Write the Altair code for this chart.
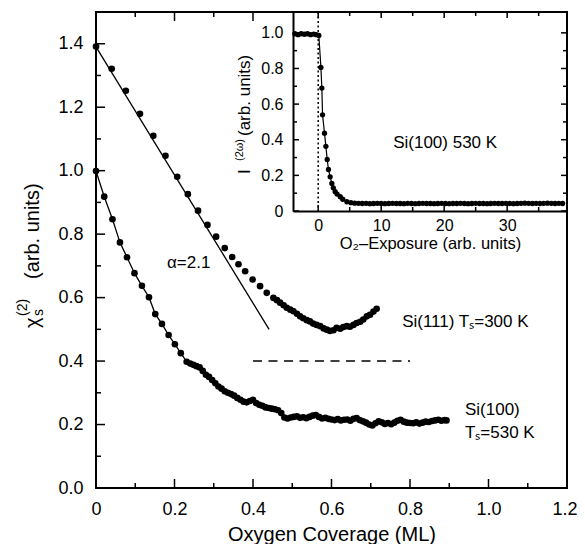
import altair as alt
import pandas as pd

# ---------------- data ----------------
# Si(111), Ts = 300 K
s111_x = [0.000, 0.040, 0.076, 0.112, 0.146, 0.177, 0.207, 0.234, 0.260, 0.284,
          0.306, 0.328, 0.347, 0.363, 0.380, 0.399, 0.418, 0.435, 0.452, 0.461,
          0.469, 0.478, 0.486, 0.495, 0.503, 0.512, 0.520, 0.528, 0.537, 0.545,
          0.553, 0.562, 0.571, 0.580, 0.588, 0.596, 0.605, 0.613, 0.622, 0.630,
          0.639, 0.647, 0.656, 0.664, 0.673, 0.681, 0.690, 0.698, 0.707, 0.715]
s111_y = [1.391, 1.321, 1.252, 1.179, 1.110, 1.047, 0.981, 0.926, 0.874, 0.829,
          0.792, 0.756, 0.728, 0.705, 0.683, 0.657, 0.636, 0.615, 0.599, 0.592,
          0.584, 0.576, 0.568, 0.562, 0.557, 0.549, 0.541, 0.535, 0.529, 0.525,
          0.518, 0.514, 0.510, 0.503, 0.499, 0.495, 0.497, 0.505, 0.502, 0.507,
          0.510, 0.508, 0.514, 0.520, 0.524, 0.531, 0.541, 0.546, 0.556, 0.565]

# Si(100), Ts = 530 K
s100_x = [0.000, 0.021, 0.042, 0.061, 0.079, 0.098, 0.117, 0.135, 0.151, 0.168,
          0.185, 0.201, 0.216, 0.231, 0.240, 0.248, 0.256, 0.264, 0.272, 0.280,
          0.288, 0.296, 0.304, 0.312, 0.320, 0.328, 0.336, 0.344, 0.352, 0.360,
          0.368, 0.376, 0.384, 0.392, 0.400, 0.408, 0.416, 0.424, 0.432, 0.440,
          0.448, 0.456, 0.464, 0.472, 0.480, 0.488, 0.496, 0.504, 0.512, 0.520,
          0.528, 0.536, 0.544, 0.552, 0.560, 0.568, 0.576, 0.584, 0.592, 0.600,
          0.608, 0.616, 0.624, 0.632, 0.640, 0.648, 0.656, 0.664, 0.672, 0.680,
          0.688, 0.696, 0.704, 0.712, 0.720, 0.728, 0.736, 0.744, 0.752, 0.760,
          0.768, 0.776, 0.784, 0.792, 0.800, 0.808, 0.816, 0.824, 0.832, 0.840,
          0.848, 0.856, 0.864, 0.872, 0.880, 0.888, 0.893]
s100_y = [0.999, 0.918, 0.847, 0.774, 0.727, 0.677, 0.637, 0.601, 0.548, 0.517,
          0.482, 0.453, 0.425, 0.398, 0.392, 0.388, 0.384, 0.380, 0.369, 0.357,
          0.350, 0.340, 0.330, 0.320, 0.313, 0.305, 0.300, 0.296, 0.291, 0.284,
          0.278, 0.272, 0.270, 0.274, 0.278, 0.268, 0.262, 0.259, 0.254, 0.252,
          0.250, 0.248, 0.245, 0.236, 0.222, 0.219, 0.222, 0.224, 0.226, 0.221,
          0.223, 0.220, 0.224, 0.228, 0.230, 0.224, 0.219, 0.221, 0.218, 0.216,
          0.214, 0.217, 0.213, 0.215, 0.216, 0.212, 0.218, 0.220, 0.214, 0.210,
          0.206, 0.200, 0.197, 0.204, 0.210, 0.207, 0.202, 0.205, 0.201, 0.206,
          0.212, 0.215, 0.209, 0.206, 0.205, 0.204, 0.207, 0.203, 0.206, 0.209,
          0.208, 0.211, 0.213, 0.215, 0.212, 0.214, 0.213]

# linear fit (alpha = 2.1) for Si(111)
fit_x = [0.0, 0.441]
fit_y = [1.39, 0.50]
# Si(100) fitted part ends at this coverage
s100_fit_end = 0.232

# dashed reference line
dash_x = [0.4, 0.8]
dash_y = 0.4

# inset: SHG intensity vs O2 exposure, Si(100) 530 K
ins_x = [-3.7, -3.2, -2.7, -2.2, -1.7, -1.2, -0.7, -0.3, 0.1, 0.43,
         0.58, 0.69, 1.0, 1.22, 1.43, 1.63, 1.9, 2.17, 2.4, 2.7,
         3.0, 3.5, 3.9, 4.55, 5.2, 5.8,
         6.4, 7.0, 7.6, 8.2, 8.8, 9.4, 10.0, 10.6, 11.2, 11.8,
         12.4, 13.0, 13.6, 14.2, 14.8, 15.4, 16.0, 16.6, 17.2, 17.8,
         18.4, 19.0, 19.6, 20.2, 20.8, 21.4, 22.0, 22.6, 23.2, 23.8,
         24.4, 25.0, 25.6, 26.2, 26.8, 27.4, 28.0, 28.6, 29.2, 29.8,
         30.4, 31.0, 31.6, 32.2, 32.8, 33.4, 34.0, 34.6, 35.2, 35.8,
         36.4, 37.0, 37.6, 38.2, 38.8]
ins_y = [0.995, 0.990, 0.995, 0.992, 0.995, 0.990, 0.993, 0.990, 0.985, 0.806,
         0.690, 0.540, 0.437, 0.363, 0.289, 0.233, 0.192, 0.155, 0.130, 0.108,
         0.095, 0.080, 0.066, 0.052, 0.047, 0.044,
         0.043, 0.042, 0.043, 0.041, 0.042, 0.043, 0.042, 0.041, 0.042, 0.043,
         0.042, 0.042, 0.041, 0.043, 0.042, 0.041, 0.042, 0.043, 0.042, 0.042,
         0.041, 0.042, 0.043, 0.042, 0.041, 0.042, 0.042, 0.043, 0.042, 0.041,
         0.042, 0.043, 0.042, 0.042, 0.041, 0.042, 0.043, 0.042, 0.042, 0.043,
         0.042, 0.041, 0.042, 0.043, 0.044, 0.043, 0.042, 0.043, 0.042, 0.043,
         0.044, 0.043, 0.042, 0.043, 0.042]

# tick values
main_x_major = [0.0, 0.2, 0.4, 0.6, 0.8, 1.0, 1.2]
main_x_minor = [0.1, 0.3, 0.5, 0.7, 0.9, 1.1]
main_top_major = [0.2, 0.4]
main_top_minor = [0.1, 0.3]
main_y_major = [0.0, 0.2, 0.4, 0.6, 0.8, 1.0, 1.2, 1.4]
main_y_minor = [0.1, 0.3, 0.5, 0.7, 0.9, 1.1, 1.3]
ins_x_major = [0, 10, 20, 30]
ins_x_minor = [5, 15, 25, 35]
ins_y_major = [0.0, 0.2, 0.4, 0.6, 0.8, 1.0]
ins_y_minor = [0.1, 0.3, 0.5, 0.7, 0.9]

# annotations
main_labels = ["α=2.1", "Si(111) Tₛ=300 K", "Si(100)", "Tₛ=530 K"]
main_label_x = [0.181, 0.78, 0.94, 0.94]
main_label_y = [0.693, 0.507, 0.230, 0.158]
ins_label = ["Si(100) 530 K"]
ins_label_x = [11.9]
ins_label_y = [0.352]

# ---------------- layout ----------------
FONT = "Liberation Sans"
W, H = 471, 476
IX0, IX1, IYB = 197, 471, 199   # inset box inside the plot area (px)

xs = alt.Scale(domain=[0, 1.2], nice=False, zero=False)
ys = alt.Scale(domain=[0, 1.5], nice=False, zero=False)
ixs = alt.Scale(domain=[-4, 39.5], range=[IX0, IX1], nice=False, zero=False)
iys = alt.Scale(domain=[0, 1.117], range=[IYB, 0], nice=False, zero=False)

zero_lbl = "datum.value == 0 ? '0' : format(datum.value, '.1f')"
last_test = "datum.value >= 1.19"

x_axis = alt.Axis(orient="bottom", values=main_x_major, labelExpr=zero_lbl,
                  ticks=False, domain=False, grid=False, labelFlush=False,
                  labelAlign={"condition": {"test": last_test, "value": "right"},
                              "value": "center"},
                  labelOffset={"condition": {"test": last_test, "value": 10},
                               "value": 0},
                  labelFontSize=18, labelPadding=12, labelFont=FONT,
                  labelColor="black", title="Oxygen Coverage (ML)", titleFont=FONT,
                  titleFontSize=20, titleFontWeight="normal", titleColor="black",
                  titleBaseline="alphabetic", titleY=52)
y_axis = alt.Axis(orient="left", values=main_y_major, format=".1f", ticks=False,
                  domain=False, grid=False, labelFlush=False, labelFontSize=18,
                  labelPadding=13, labelFont=FONT, labelColor="black", title="")
ix_axis = alt.Axis(orient="bottom", offset=-(H - IYB), values=ins_x_major, format="d",
                   ticks=False, domain=True, domainColor="black",
                   domainWidth=2, grid=False, labelFlush=False, labelFontSize=16,
                   labelPadding=6, labelFont=FONT, labelColor="black",
                   title="O₂–Exposure (arb. units)", titleFont=FONT, titleFontSize=16.5,
                   titleFontWeight="normal", titleColor="black",
                   titleBaseline="alphabetic", titleY=37)
iy_axis = alt.Axis(orient="left", offset=-IX0, values=ins_y_major, labelExpr=zero_lbl,
                   ticks=False, domain=True, domainColor="black",
                   domainWidth=2, grid=False, labelFlush=False, labelFontSize=16,
                   labelPadding=10, labelFont=FONT, labelColor="black", title="")

df111 = pd.DataFrame({"x": s111_x, "y": s111_y})
df100 = pd.DataFrame({"x": s100_x, "y": s100_y})
dffit = pd.DataFrame({"x": fit_x, "y": fit_y})
dfdash = pd.DataFrame({"x": [dash_x[0]], "x2": [dash_x[1]], "y": [dash_y]})
dfins = pd.DataFrame({"x": ins_x, "y": ins_y})
dfann = pd.DataFrame({"x": main_label_x, "y": main_label_y, "t": main_labels})
dfiann = pd.DataFrame({"x": ins_label_x, "y": ins_label_y, "t": ins_label})
one = pd.DataFrame({"a": [0]})


def X(field="x:Q", axis=None):
    return alt.X(field, scale=xs, axis=axis)


def Y(field="y:Q", axis=None):
    return alt.Y(field, scale=ys, axis=axis)


def IXe(field="x:Q", axis=None):
    return alt.X(field, scale=ixs, axis=axis)


def IYe(field="y:Q", axis=None):
    return alt.Y(field, scale=iys, axis=axis)


def vticks(vals, enc, y0, y1):
    return alt.Chart(pd.DataFrame({"t": vals})).mark_rule(
        color="black", strokeWidth=1.5).encode(
        x=enc("t:Q"), y=alt.value(y0), y2=alt.value(y1))


def hticks(vals, enc, x0, x1):
    return alt.Chart(pd.DataFrame({"t": vals})).mark_rule(
        color="black", strokeWidth=1.5).encode(
        y=enc("t:Q"), x=alt.value(x0), x2=alt.value(x1))


def ptext(txt, px, py, fs, angle=270):
    return alt.Chart(one).mark_text(
        text=txt, angle=angle, align="left", baseline="alphabetic",
        font=FONT, fontSize=fs, color="black").encode(
        x=alt.value(px), y=alt.value(py))


# ---------------- main panel ----------------
pts111 = alt.Chart(df111).mark_circle(size=44, color="black", opacity=1).encode(
    x=X(axis=x_axis), y=Y(axis=y_axis))
pts100 = alt.Chart(df100).mark_circle(size=44, color="black", opacity=1).encode(
    x=X(), y=Y())
fitline = alt.Chart(dffit).mark_line(color="black", strokeWidth=1.3).encode(x=X(), y=Y())
fit100 = alt.Chart(df100).transform_filter(
    alt.datum.x <= s100_fit_end).mark_line(color="black", strokeWidth=1.3).encode(
    x=X(), y=Y())
dash = alt.Chart(dfdash).mark_rule(color="black", strokeWidth=1.5,
                                   strokeDash=[9, 6.5]).encode(
    x=X(), x2="x2:Q", y=Y())
ann = alt.Chart(dfann).mark_text(align="left", baseline="alphabetic", font=FONT,
                                 fontSize=17, color="black").encode(
    x=X(), y=Y(), text="t:N")

# ---------------- inset panel ----------------
ins_line = alt.Chart(dfins).mark_line(color="black", strokeWidth=1.2).encode(
    x=IXe(axis=ix_axis), y=IYe(axis=iy_axis))
ins_pts = alt.Chart(dfins).mark_circle(size=28, color="black", opacity=1).encode(
    x=IXe(), y=IYe())
onset = alt.Chart(pd.DataFrame({"x": [0]})).mark_rule(
    color="black", strokeWidth=1.5, strokeDash=[2, 2.5]).encode(
    x=IXe(), y=alt.value(0), y2=alt.value(IYB))
ins_ann = alt.Chart(dfiann).mark_text(align="left", baseline="alphabetic", font=FONT,
                                      fontSize=17, color="black").encode(
    x=IXe(), y=IYe(), text="t:N")

chart = alt.layer(
    pts111, pts100, fitline, fit100, dash, ann,
    vticks(main_x_major, X, H, H - 9),
    vticks(main_x_minor, X, H, H - 5),
    vticks(main_top_major, X, 0, 9),
    vticks(main_top_minor, X, 0, 5),
    hticks(main_y_major, Y, 0, 9),
    hticks(main_y_minor, Y, 0, 5),
    ptext("χ", -57, 316, 20),
    ptext("s", -53, 304, 14),
    ptext("(2)", -69, 304, 14),
    ptext("(arb. units)", -57, 267, 20),
    ins_line, ins_pts, onset, ins_ann,
    vticks(ins_x_major, IXe, IYB, IYB - 6),
    vticks(ins_x_minor, IXe, IYB, IYB - 4),
    vticks(ins_x_major, IXe, 0, 6),
    vticks(ins_x_minor, IXe, 0, 4),
    hticks(ins_y_major, IYe, IX0, IX0 + 6),
    hticks(ins_y_minor, IYe, IX0, IX0 + 4),
    hticks(ins_y_major, IYe, IX1, IX1 - 6),
    hticks(ins_y_minor, IYe, IX1, IX1 - 4),
    ptext("I", 154, 162, 17),
    ptext("(2ω)", 147, 149, 11),
    ptext("(arb. units)", 154, 124, 17),
).resolve_scale(
    x="independent", y="independent"
).properties(
    width=W, height=H,
    padding={"left": 88, "top": 4, "right": 10, "bottom": 56},
    autosize=alt.AutoSizeParams(type="none"),
).configure(
    font=FONT,
    view=alt.ViewConfig(stroke="black", strokeWidth=2),
)

chart.save("out.html", embed_options={"renderer": "svg", "actions": False})
